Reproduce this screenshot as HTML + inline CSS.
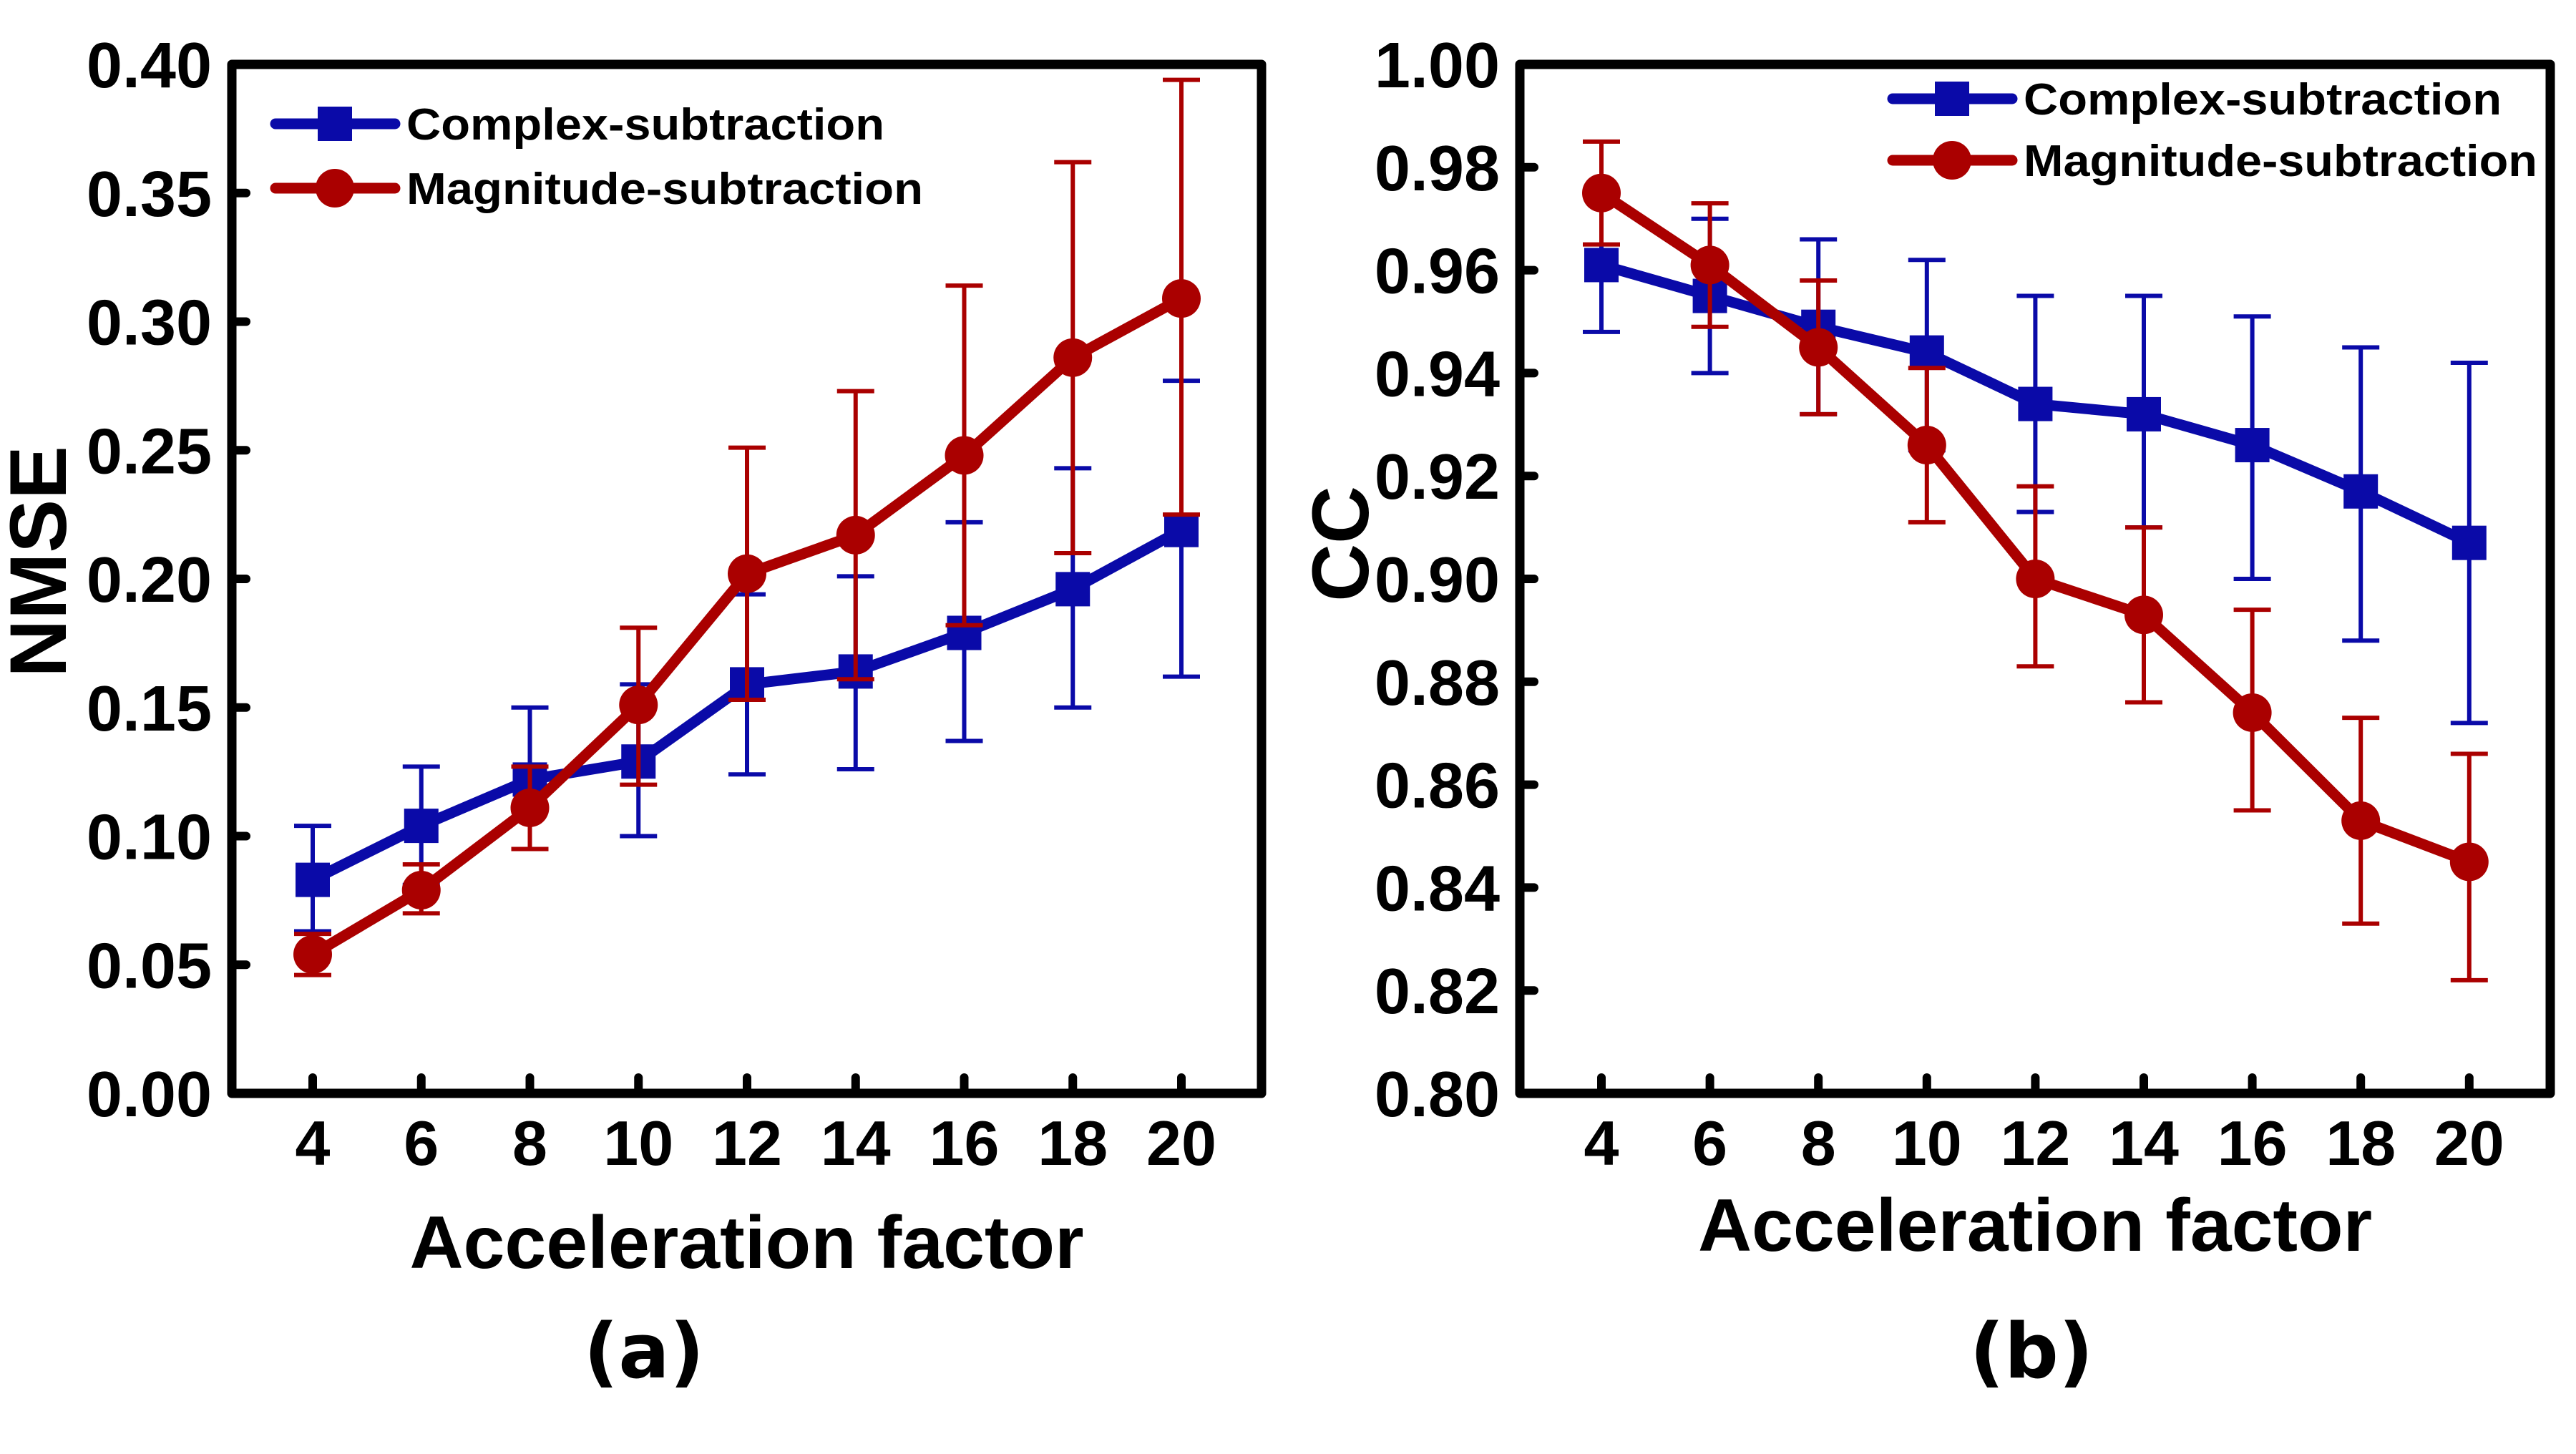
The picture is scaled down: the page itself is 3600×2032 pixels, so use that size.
<!DOCTYPE html>
<html><head><meta charset="utf-8"><style>
html,body{margin:0;padding:0;background:#fff;}
svg{display:block;}
text{font-family:"Liberation Sans",Arial,sans-serif;font-weight:bold;fill:#000;}
</style></head><body>
<svg id="fig" width="3600" height="2032" viewBox="0 0 3600 2032" xmlns="http://www.w3.org/2000/svg">
<g id="pa"></g>
<g id="pb"></g>
</svg>
<script>
const categories = [4, 6, 8, 10, 12, 14, 16, 18, 20];
const nmseComplex = [0.083, 0.104, 0.122, 0.129, 0.159, 0.164, 0.179, 0.196, 0.219];
const nmseComplexHi = [0.104, 0.127, 0.150, 0.159, 0.194, 0.201, 0.222, 0.243, 0.277];
const nmseComplexLo = [0.063, 0.081, 0.095, 0.100, 0.124, 0.126, 0.137, 0.150, 0.162];
const nmseMag = [0.054, 0.079, 0.111, 0.151, 0.202, 0.217, 0.248, 0.286, 0.309];
const nmseMagHi = [0.062, 0.089, 0.127, 0.181, 0.251, 0.273, 0.314, 0.362, 0.394];
const nmseMagLo = [0.046, 0.070, 0.095, 0.120, 0.153, 0.161, 0.182, 0.210, 0.225];
const ccComplex = [0.961, 0.955, 0.949, 0.944, 0.934, 0.932, 0.926, 0.917, 0.907];
const ccComplexHi = [0.975, 0.970, 0.966, 0.962, 0.955, 0.955, 0.951, 0.945, 0.942];
const ccComplexLo = [0.948, 0.940, 0.932, 0.925, 0.913, 0.910, 0.900, 0.888, 0.872];
const ccMag = [0.975, 0.961, 0.945, 0.926, 0.900, 0.893, 0.874, 0.853, 0.845];
const ccMagHi = [0.985, 0.973, 0.958, 0.941, 0.918, 0.910, 0.894, 0.873, 0.866];
const ccMagLo = [0.965, 0.949, 0.932, 0.911, 0.883, 0.876, 0.855, 0.833, 0.822];
const nmseTicks = ["0.00","0.05","0.10","0.15","0.20","0.25","0.30","0.35","0.40"];
const ccTicks = ["0.80","0.82","0.84","0.86","0.88","0.90","0.92","0.94","0.96","0.98","1.00"];
const xTicks = ["4","6","8","10","12","14","16","18","20"];

const NS = "http://www.w3.org/2000/svg";
const BLUE = "#0a0aa8", RED = "#aa0000";
function mk(parent, tag, attrs) {
  const e = document.createElementNS(NS, tag);
  for (const k in attrs) e.setAttribute(k, attrs[k]);
  parent.appendChild(e);
  return e;
}
function panel(g, o) {
  const top = 90, bot = 1528;
  const xs = v => o.x4 + (v - 4) * o.dx / 2;
  const ys = v => bot - (v - o.ymin) / (o.ymax - o.ymin) * (bot - top);
  o.yt.forEach(t => {
    const y = ys(parseFloat(t));
    const tk = mk(g, "line", {x1: o.left, x2: o.left + 20, y1: y, y2: y, stroke: "#000", "stroke-width": 12, "stroke-linecap": "round"});
    
    
    const lb = mk(g, "text", {x: o.left - 28, y: y + 32, "text-anchor": "end", "font-size": 90});
    
    
    lb.textContent = t;
  });
  xTicks.forEach(t => {
    const x = xs(parseFloat(t));
    const tk = mk(g, "line", {x1: x, x2: x, y1: bot, y2: bot - 22, stroke: "#000", "stroke-width": 12, "stroke-linecap": "round"});
    
    
    const lb = mk(g, "text", {x: x, y: 1628, "text-anchor": "middle", "font-size": 88});
    
    
    lb.textContent = t;
  });
  const fr = mk(g, "rect", {x: o.left, y: top, width: o.right - o.left, height: bot - top, fill: "none", stroke: "#000", "stroke-width": 13, "stroke-linejoin": "round"});
  
  
  const series = [
    {v: o.c, hi: o.ch, lo: o.cl, col: BLUE, m: "sq", name: "complex"},
    {v: o.m, hi: o.mh, lo: o.ml, col: RED, m: "ci", name: "magnitude"}
  ];
  series.forEach(s => {
    const sg = mk(g, "g", {});
    
    
    categories.forEach((c, i) => {
      const x = xs(c);
      const eb = mk(sg, "path", {d: `M${x},${ys(s.lo[i])}V${ys(s.hi[i])}M${x-26},${ys(s.lo[i])}h52M${x-26},${ys(s.hi[i])}h52`, stroke: s.col, "stroke-width": 6, fill: "none"});
      
      
    });
    const pl = mk(sg, "polyline", {points: categories.map((c, i) => xs(c) + "," + ys(s.v[i])).join(" "), fill: "none", stroke: s.col, "stroke-width": 15, "stroke-linejoin": "round"});
    
    
    categories.forEach((c, i) => {
      const x = xs(c), y = ys(s.v[i]);
      let mkr;
      if (s.m === "sq") mkr = mk(sg, "rect", {x: x - 24, y: y - 24, width: 48, height: 48, fill: s.col});
      else mkr = mk(sg, "circle", {cx: x, cy: y, r: 27, fill: s.col});
      
      
    });
  });
  const lg = mk(g, "g", {});
  
  
  [["Complex-subtraction", BLUE, "sq", o.ly1, o.lw1], ["Magnitude-subtraction", RED, "ci", o.ly2, o.lw2]].forEach(L => {
    const ln = mk(lg, "line", {x1: o.lx, x2: o.lx + 167, y1: L[3], y2: L[3], stroke: L[1], "stroke-width": 15, "stroke-linecap": "round"});
    
    
    const cx = o.lx + 83;
    let m;
    if (L[2] === "sq") m = mk(lg, "rect", {x: cx - 24, y: L[3] - 24, width: 48, height: 48, fill: L[1]});
    else m = mk(lg, "circle", {cx: cx, cy: L[3], r: 27, fill: L[1]});
    
    
    const t = mk(lg, "text", {x: o.lx + 183, y: L[3] + 22, "font-size": 62, textLength: L[4], lengthAdjust: "spacingAndGlyphs"});
    
    
    t.textContent = L[0];
  });
  const xt = mk(g, "text", {x: (o.left + o.right) / 2, y: o.xty, "text-anchor": "middle", "font-size": 104});
  
  
  xt.textContent = "Acceleration factor";
  const yt = mk(g, "text", {x: 0, y: 0, "text-anchor": "middle", "font-size": 112, transform: `translate(${o.ytx},${o.yty}) rotate(-90)`});
  
  
  yt.textContent = o.ytitle;
  const pt = mk(g, "text", {x: o.plx, y: 1925, "text-anchor": "middle", "font-size": 106, style: 'font-family:"DejaVu Sans",sans-serif'});
  
  
  pt.textContent = o.plabel;
}
panel(document.getElementById("pa"), {left: 324, right: 1763, x4: 437, dx: 151.75, ymin: 0, ymax: 0.40, yt: nmseTicks,
  c: nmseComplex, ch: nmseComplexHi, cl: nmseComplexLo, m: nmseMag, mh: nmseMagHi, ml: nmseMagLo,
  lx: 385, ly1: 173, ly2: 263, lw1: 668, lw2: 722, xty: 1772, ytx: 92, yty: 785, ytitle: "NMSE", plx: 900, plabel: "(a)"});
panel(document.getElementById("pb"), {left: 2124, right: 3564, x4: 2238, dx: 151.6, ymin: 0.80, ymax: 1.00, yt: ccTicks,
  c: ccComplex, ch: ccComplexHi, cl: ccComplexLo, m: ccMag, mh: ccMagHi, ml: ccMagLo,
  lx: 2645, ly1: 138, ly2: 224, lw1: 668, lw2: 718, xty: 1748, ytx: 1912, yty: 760, ytitle: "CC", plx: 2839, plabel: "(b)"});
</script>
</body></html>
